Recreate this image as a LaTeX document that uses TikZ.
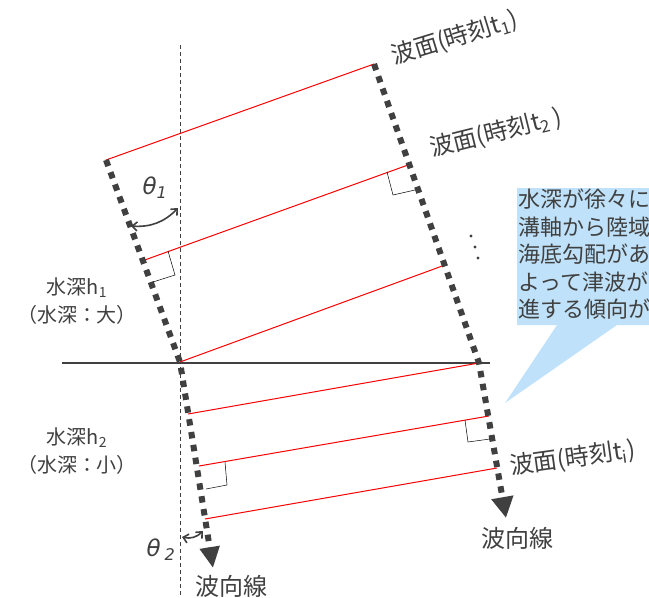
\documentclass[tikz,border=0pt]{standalone}
\usepackage{fontspec}
\setmainfont{Noto Sans CJK JP}
\newfontfamily\grkfont{DejaVu Sans}
\usetikzlibrary{arrows.meta,calc}
\definecolor{txtgray}{RGB}{64,64,64}
\definecolor{callblue}{RGB}{191,226,250}

\begin{document}
\begin{tikzpicture}[x=1pt,y=-1pt,
  ray/.style={draw=txtgray, line width=6pt, dash pattern=on 6.5pt off 6.5pt},
  front/.style={red, line width=1pt},
  rmark/.style={black, line width=0.5pt},
  lbl/.style={text=txtgray, inner sep=0pt, font=\fontsize{24}{24}\selectfont},
  dlbl/.style={text=txtgray, inner sep=0pt, align=center, font=\fontsize{20}{28}\selectfont},
  anglbl/.style={text=txtgray, inner sep=0pt, font=\fontsize{23}{23}\grkfont\itshape},
  angarr/.style={txtgray, line width=1.6pt, {Straight Barb[length=5pt,width=9pt]}-{Straight Barb[length=5pt,width=9pt]}}]
\useasboundingbox (0,0) rectangle (649,598);

% normal and boundary of depth
\draw[txtgray, line width=0.8pt, dash pattern=on 4pt off 3pt] (180,45) -- (180,598);
\draw[txtgray, line width=1.4pt] (62,363) -- (490,363);

% wave rays
\coordinate (A1) at (106,160);
\coordinate (A2) at (180,362);
\coordinate (A3) at (213,568);
\coordinate (B1) at (374,64);
\coordinate (B2) at (479,363);
\coordinate (B3) at (506,518);

% wave fronts
\draw[front] (A1) -- (B1);
\draw[front] (142,261) -- (408,165);
\draw[front] (A2) -- (445,265);
\draw[front] (188,414) -- (B2);
\draw[front] (199,466) -- (489,416);
\draw[front] (205,519) -- (497,468);

\draw[ray, -{Triangle[length=21pt,width=19pt]}] (A1) -- (A2) -- (A3);
\draw[ray, -{Triangle[length=21pt,width=21pt]}] (B1) -- (B2) -- (B3);

% right angles
\draw[rmark] (168,251) -- (175,275) -- (153,282);
\draw[rmark] (387,172) -- (393,195) -- (415,190);
\draw[rmark] (225,462) -- (227,485) -- (206,489);
\draw[rmark] (465,420) -- (468,442) -- (490,439);

% angles
\draw[angarr] (131,226) to[bend right=25] (178,208);
\draw[angarr] (182,537) to[bend right=30] (203,531);
\node[anglbl] (th1) at (155,188) {θ\textsubscript{1}};
\node[anglbl] (th2) at (161,550) {θ\,\textsubscript{2}};

\fill[txtgray] (471,236) circle (1.7pt) (475,247) circle (1.7pt) (478,258) circle (1.7pt);

% labels
\node[lbl, rotate=17, anchor=base west] (t1) at (394,65) {波面(時刻t\textsubscript{1})};
\node[lbl, rotate=14, anchor=base west] (t2) at (432,157) {波面(時刻t\textsubscript{2}\,)};
\node[lbl, rotate=8, anchor=base west] (ti) at (511,475) {波面(時刻t\textsubscript{i})};
\node[lbl] (dirA) at (231,586) {波向線};
\node[lbl] (dirB) at (517,538) {波向線};
\node[dlbl] (h1) at (77,301) {水深h\textsubscript{1}\\（水深：大）};
\node[dlbl] (h2) at (77,451) {水深h\textsubscript{2}\\（水深：小）};

% callout
\begin{scope}
\clip (0,0) rectangle (649,598);
\fill[callblue] (517,188) -- (670,188) -- (670,325) -- (617,325) -- (505,403) -- (557,325) -- (517,325) -- cycle;
\node[anchor=north west, align=left, inner sep=0pt, text=txtgray,
  font=\fontsize{22}{27.4}\selectfont] (note) at (518,189)
  {水深が徐々に\\溝軸から陸域\\海底勾配があ\\よって津波が陸\\進する傾向が};
\end{scope}
\end{tikzpicture}
\end{document}
